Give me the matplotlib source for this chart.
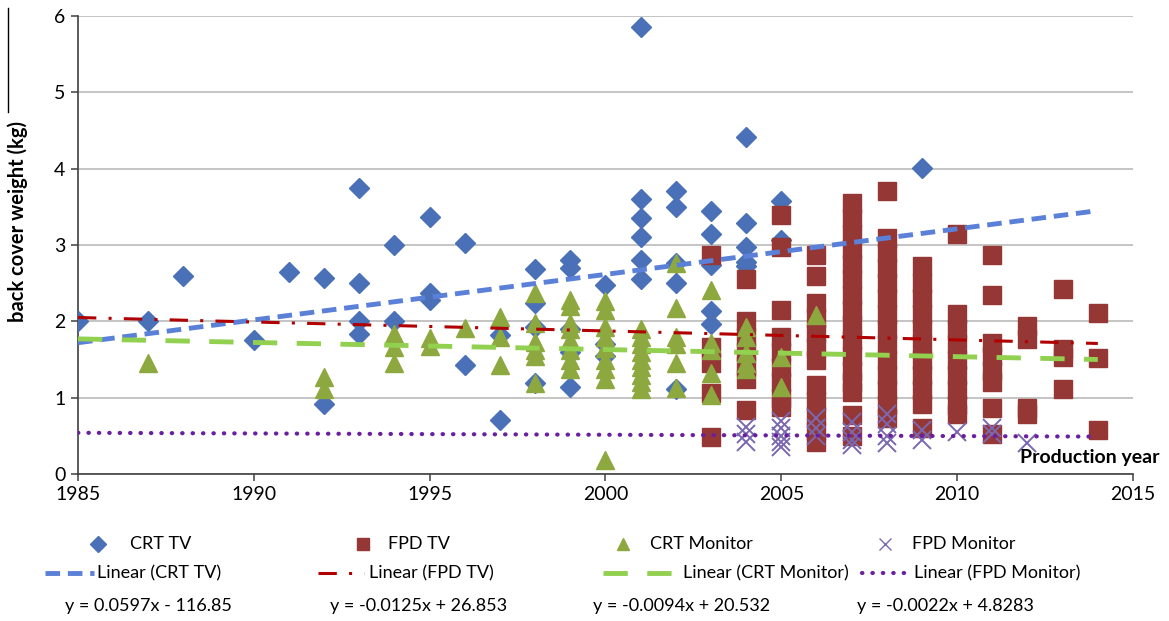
import matplotlib
matplotlib.use("Agg")
import matplotlib.pyplot as plt
from matplotlib import font_manager
from matplotlib.lines import Line2D

# ---- data ----
crt_tv = {
    1985: [2.0], 1987: [2.0], 1988: [2.6], 1990: [1.75], 1991: [2.65],
    1992: [2.57, 0.92], 1993: [3.75, 2.5, 2.0, 1.83], 1994: [3.0, 2.0],
    1995: [3.37, 2.37, 2.28], 1996: [3.03, 1.43], 1997: [1.82, 0.71],
    1998: [2.68, 2.24, 1.93, 1.19], 1999: [2.8, 2.7, 1.9, 1.6, 1.14],
    2000: [2.48, 1.7, 1.55], 2001: [5.86, 3.6, 3.35, 3.11, 2.8, 2.56],
    2002: [3.71, 3.5, 2.76, 2.5, 1.12], 2003: [3.45, 3.15, 2.74, 2.13, 1.96],
    2004: [4.41, 3.29, 2.97, 2.78, 2.72], 2005: [3.58, 3.06], 2009: [4.01],
}
fpd_tv = {
    2003: [2.87, 1.67, 1.45, 1.06, 0.49],
    2004: [2.55, 2.0, 1.8, 1.6, 1.42, 1.25, 0.84],
    2005: [3.39, 2.98, 2.15, 1.8, 1.6, 1.4, 1.2, 1.0, 0.88],
    2006: [2.87, 2.6, 2.24, 2.05, 1.85, 1.65, 1.5, 1.16, 0.96, 0.76, 0.56, 0.42],
    2007: [3.55, 3.35, 3.15, 2.95, 2.75, 2.55, 2.35, 2.15, 1.95, 1.75, 1.55,
           1.35, 1.2, 1.08, 0.77, 0.5],
    2008: [3.71, 3.09, 2.9, 2.7, 2.5, 2.3, 2.1, 1.9, 1.7, 1.5, 1.3, 1.1, 0.9, 0.73],
    2009: [2.72, 2.5, 2.3, 2.1, 1.9, 1.7, 1.5, 1.3, 1.1, 0.92, 0.6],
    2010: [3.15, 2.1, 1.9, 1.7, 1.5, 1.3, 1.1, 0.9, 0.78],
    2011: [2.87, 2.35, 1.72, 1.55, 1.35, 1.2, 0.87, 0.52],
    2012: [1.94, 1.77, 0.87, 0.78],
    2013: [2.43, 1.64, 1.53, 1.12],
    2014: [2.11, 1.52, 0.57],
}
crt_monitor = {
    1987: [1.45], 1992: [1.27, 1.12], 1994: [1.83, 1.67, 1.45], 1995: [1.78, 1.68],
    1996: [1.91], 1997: [2.06, 1.8, 1.43],
    1998: [2.37, 1.98, 1.73, 1.62, 1.55, 1.19],
    1999: [2.28, 2.2, 1.98, 1.9, 1.76, 1.63, 1.5, 1.37],
    2000: [2.26, 2.15, 1.93, 1.8, 1.65, 1.5, 1.37, 1.24, 0.18],
    2001: [1.9, 1.8, 1.7, 1.6, 1.5, 1.4, 1.3, 1.2, 1.12],
    2002: [2.76, 2.17, 1.8, 1.7, 1.45, 1.13],
    2003: [2.41, 1.71, 1.62, 1.32, 1.04],
    2004: [1.93, 1.8, 1.58, 1.46, 1.37],
    2005: [1.53, 1.14], 2006: [2.08],
}
fpd_monitor = {
    2004: [0.62, 0.52, 0.42], 2005: [0.7, 0.6, 0.5, 0.42, 0.35],
    2006: [0.73, 0.6, 0.5], 2007: [0.68, 0.55, 0.45, 0.38],
    2008: [0.78, 0.65, 0.5, 0.4], 2009: [0.58, 0.45], 2010: [0.55],
    2011: [0.6, 0.52], 2012: [0.4],
}

# trend lines, end points
trend_years = [1985, 2014]
trend_crt_tv = [1.72, 3.45]
trend_fpd_tv = [2.05, 1.71]
trend_crt_monitor = [1.77, 1.50]
trend_fpd_monitor = [0.54, 0.49]

equations = ["y = 0.0597x - 116.85", "y = -0.0125x + 26.853",
             "y = -0.0094x + 20.532", "y = -0.0022x + 4.8283"]
series_names = ["CRT TV", "FPD TV", "CRT Monitor", "FPD Monitor"]

c_crt_tv = "#4A70B8"
c_fpd_tv = "#953735"
c_crt_mon = "#8DA83E"
c_fpd_mon = "#7B68B0"
c_tr_crt_tv = "#5A80D8"
c_tr_fpd_tv = "#B00000"
c_tr_crt_mon = "#92D050"
c_tr_fpd_mon = "#6A1FA0"


def _flat(d):
    xs, ys = [], []
    for k, vals in d.items():
        for v in vals:
            xs.append(k)
            ys.append(v)
    return xs, ys


installed = {f.name for f in font_manager.fontManager.ttflist}
main_font = "Lato" if "Lato" in installed else "DejaVu Sans"
plt.rcParams["font.family"] = [main_font, "DejaVu Sans"]

W, H = 1169, 621
fig = plt.figure(figsize=(W / 100, H / 100), dpi=100)
ax = fig.add_axes([78 / W, 1 - 474 / H, (1133 - 78) / W, (474 - 16) / H])


def fx(px):
    return px / W


def fy(py):
    return 1 - py / H


x, y = _flat(crt_tv)
ax.plot(x, y, "D", ms=10.5, color=c_crt_tv, mec=c_crt_tv, zorder=3)
x, y = _flat(fpd_tv)
ax.plot(x, y, "s", ms=12.5, color=c_fpd_tv, mec=c_fpd_tv, zorder=4)
x, y = _flat(crt_monitor)
ax.plot(x, y, "^", ms=13, color=c_crt_mon, mec=c_crt_mon, zorder=5)
x, y = _flat(fpd_monitor)
ax.plot(x, y, "x", ms=13, mew=1.4, color=c_fpd_mon, zorder=6)

ax.plot(trend_years, trend_crt_tv, color=c_tr_crt_tv, lw=3.5, dashes=(3, 1.6), zorder=7)
ax.plot(trend_years, trend_fpd_tv, color=c_tr_fpd_tv, lw=2.2, dashes=(6, 4, 1, 4), zorder=7)
ax.plot(trend_years, trend_crt_monitor, color=c_tr_crt_mon, lw=3.5, dashes=(5, 4), zorder=7)
ax.plot(trend_years, trend_fpd_monitor, color=c_tr_fpd_mon, lw=3, dashes=(0.1, 2.4),
        dash_capstyle="round", zorder=7)

ax.set_xlim(1985, 2015)
ax.set_ylim(0, 6)
ax.set_xticks(range(1985, 2016, 5))
ax.set_yticks(range(0, 7))
ax.grid(True, axis="y", color="#BFBFBF", lw=1.3)
ax.set_axisbelow(True)
for s in ["top", "right"]:
    ax.spines[s].set_visible(False)
for s in ["left", "bottom"]:
    ax.spines[s].set_color("#404040")
    ax.spines[s].set_linewidth(1.2)
ax.tick_params(axis="both", length=5, width=1.1, color="#404040", labelsize=14, pad=4)

fig.text(fx(18), fy(222), "back cover weight (kg)", rotation=90, fontsize=14.5,
         fontweight="bold", ha="center", va="center")
fig.add_artist(Line2D([fx(8), fx(8)], [fy(8), fy(112)], color="black", lw=1))
fig.text(fx(1160), fy(458), "Production year", fontsize=14, fontweight="bold",
         ha="right", va="center")

# legend drawn below the plot
row1, row2, row3 = 544, 573, 606
leg_font = dict(fontsize=13, va="center")
marks = [("D", c_crt_tv, 98, 130), ("s", c_fpd_tv, 363, 388),
         ("^", c_crt_mon, 623, 650), ("x", c_fpd_mon, 885, 912)]
for (m, c, mx, tx), name in zip(marks, series_names):
    fig.add_artist(Line2D([fx(mx)], [fy(row1)], marker=m, ms=8, color=c, mew=1))
    fig.text(fx(tx), fy(row1), name, **leg_font)

lines = [
    (45, 94, c_tr_crt_tv, dict(lw=3.5, dashes=(3, 1.6)), 97),
    (318, 364, c_tr_fpd_tv, dict(lw=2.2, dashes=(6, 4, 1, 4)), 369),
    (603, 680, c_tr_crt_mon, dict(lw=3.5, dashes=(5, 4)), 683),
    (862, 910, c_tr_fpd_mon, dict(lw=3, dashes=(0.1, 2.4), dash_capstyle="round"), 914),
]
for (x0, x1, c, st, tx), name in zip(lines, series_names):
    fig.add_artist(Line2D([fx(x0), fx(x1)], [fy(row2), fy(row2)], color=c, **st))
    fig.text(fx(tx), fy(row2), f"Linear ({name})", **leg_font)

for eq, px in zip(equations, [65, 330, 593, 857]):
    fig.text(fx(px), fy(row3), eq, **leg_font)

fig.savefig("out.png", dpi=100)
